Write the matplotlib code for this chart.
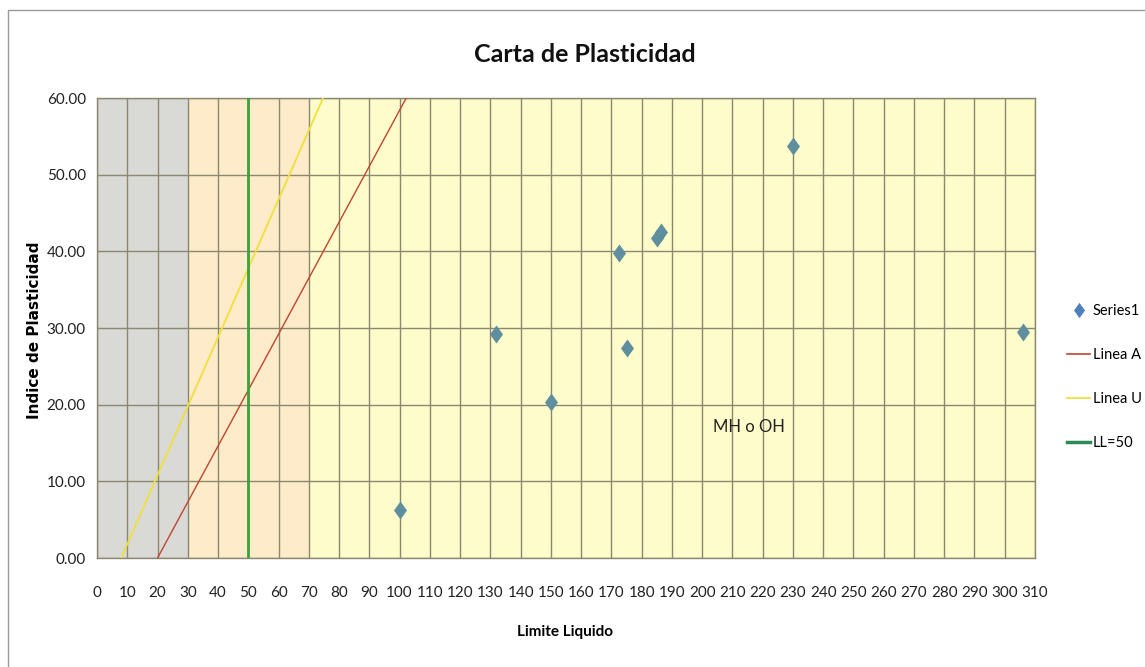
import matplotlib
matplotlib.use("Agg")
import matplotlib.pyplot as plt
from matplotlib.lines import Line2D
from matplotlib.patches import Rectangle

plt.rcParams['font.family'] = ['Lato', 'DejaVu Sans']

# Sample points: liquid limit (LL) vs plasticity index (PI)
limite_liquido = [100, 132, 150, 172.5, 175, 185, 186.4, 230, 306]
indice_plasticidad = [6.3, 29.2, 20.3, 39.8, 27.4, 41.7, 42.5, 53.8, 29.5]

# Reference lines of the plasticity chart
linea_a_x = [20, 102.2]
linea_a_y = [0, 60]
linea_u_x = [8, 74.7]
linea_u_y = [0, 60]
ll50_x = [50, 50]
ll50_y = [0, 60]

# Shaded LL bands: (start, end, colour)
bandas = [(0, 30, '#d9d9d6'), (30, 70, '#fdebc9'), (70, 310, '#fefcca')]

x_ticks = list(range(0, 311, 10))
y_ticks = [0, 10, 20, 30, 40, 50, 60]

# Excel-style diamond marker (a bit wider than matplotlib's thin diamond)
diamante = [(0, 1), (0.72, 0), (0, -1), (-0.72, 0), (0, 1)]

W, H = 1145, 667
fig = plt.figure(figsize=(W / 100, H / 100), dpi=100)
ax = fig.add_axes([97 / W, 1 - 558 / H, (1035 - 97) / W, (558 - 98) / H])

for x0, x1, c in bandas:
    ax.axvspan(x0, x1, color=c, zorder=0, lw=0)

ax.set_xlim(0, 310)
ax.set_ylim(0, 60)
ax.set_xticks(x_ticks)
ax.set_yticks(y_ticks)
ax.set_yticklabels([f"{v:.2f}" for v in y_ticks])
ax.tick_params(length=0, labelsize=11, colors='#222222')
ax.tick_params(axis='x', pad=20)
ax.tick_params(axis='y', pad=8)
ax.grid(True, color='#8a8870', lw=1.0, zorder=1)
for s in ax.spines.values():
    s.set_color('#8a8870')
    s.set_linewidth(1.0)

ax.plot(linea_a_x, linea_a_y, color='#c0452e', lw=1.0, zorder=3, label='Linea A')
ax.plot(linea_u_x, linea_u_y, color='#f0e03a', lw=1.3, zorder=3, label='Linea U')
ax.plot(ll50_x, ll50_y, color='#3aa33a', lw=2.0, zorder=3, label='LL=50')
ax.plot(limite_liquido, indice_plasticidad, linestyle='none', marker=diamante,
        markersize=13, color='#5f8f9e', markeredgewidth=0, zorder=4, label='Series1')

ax.text(203.5, 17.1, 'MH o OH', fontsize=12, color='#222222', va='center', ha='left')

fig.text(585 / W, 1 - 55 / H, 'Carta de Plasticidad', fontsize=18, fontweight='bold',
         ha='center', va='center', color='#111111')
fig.text(565 / W, 1 - 632 / H, 'Limite Liquido', fontsize=11, fontweight='bold',
         ha='center', va='center')
fig.text(35 / W, 1 - 330 / H, 'Indice de Plasticidad', fontsize=11, fontweight='bold',
         ha='center', va='center', rotation=90, family=['DejaVu Sans'])

handles = [
    Line2D([], [], linestyle='none', marker=diamante, markersize=11,
           markeredgewidth=0, color='#4f7fbd'),
    Line2D([], [], color='#c0452e', lw=1.2),
    Line2D([], [], color='#f0e03a', lw=1.3),
    Line2D([], [], color='#2e8b57', lw=2.5),
]
labels = ['Series1', 'Linea A', 'Linea U', 'LL=50']
fig.legend(handles, labels, loc='center left', bbox_to_anchor=(1067 / W, 1 - 377 / H),
           frameon=False, fontsize=10.5, handlelength=1.6, handletextpad=0.15,
           labelspacing=2.05, borderpad=0, borderaxespad=0)

# Outer chart frame
frame = Rectangle((8 / W, -0.01), 1.0, 1 - 10 / H + 0.01, transform=fig.transFigure,
                  fill=False, edgecolor='#999999', lw=1.0)
fig.patches.append(frame)

fig.savefig('out.png', dpi=100)
